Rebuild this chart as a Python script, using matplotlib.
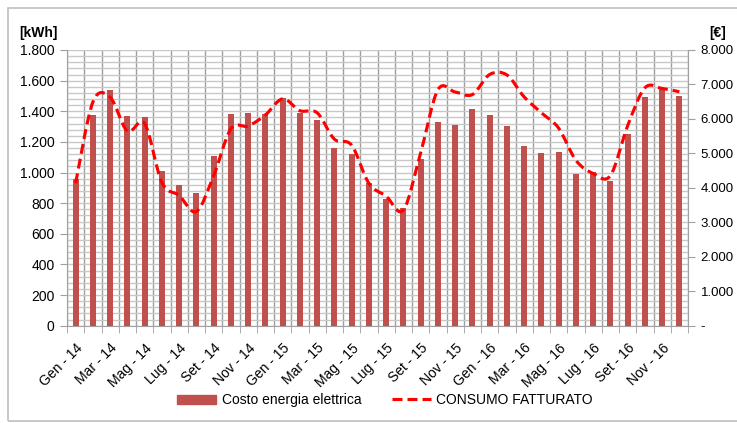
import matplotlib.pyplot as plt
import numpy as np
from matplotlib.path import Path
from matplotlib.patches import PathPatch, Rectangle
from matplotlib.lines import Line2D
from matplotlib.ticker import FuncFormatter, MultipleLocator

plt.rcParams['font.family'] = ['Liberation Sans', 'DejaVu Sans']

mesi = ["Gen", "Feb", "Mar", "Apr", "Mag", "Giu", "Lug", "Ago", "Set", "Ott", "Nov", "Dic"]
anni = ["14", "15", "16"]
labels = [f"{m} - {a}" for a in anni for m in mesi]

# Costo energia elettrica [€] (bars, right axis)
costo = [4270, 6115, 6850, 6095, 6055, 4490, 4090, 3840, 4930, 6150, 6175, 6155,
         6595, 6180, 5970, 5165, 4995, 4140, 3670, 3420, 4850, 5900, 5815, 6290,
         6125, 5795, 5215, 5000, 5050, 4410, 4470, 4200, 5560, 6635, 6865, 6665]

# CONSUMO FATTURATO [kWh] (line, left axis)
consumo = [930, 1460, 1491, 1270, 1320, 935, 850, 745, 978, 1285, 1304, 1376,
           1481, 1404, 1390, 1218, 1178, 930, 846, 755, 1128, 1540, 1526, 1509,
           1640, 1637, 1494, 1390, 1290, 1080, 994, 980, 1305, 1553, 1549, 1527]

bar_color = "#C0504D"
line_color = "#FF0000"
grid_color = "#C8C8C8"
vgrid_color = "#9E9E9E"
axis_color = "#A0A0A0"
dash = (0, (3.2, 1.6))


def it_fmt(v, pos):
    return f"{int(round(v)):,}".replace(",", ".")


def eur_fmt(v, pos):
    if abs(v) < 1e-6:
        return "-"
    return it_fmt(v, pos)


fig = plt.figure(figsize=(7.37, 4.23), dpi=100)
fig.patches.append(Rectangle((8 / 737, 2 / 423), 1.2, 413 / 423, transform=fig.transFigure,
                             fill=False, edgecolor="#BFBFBF", linewidth=1.2))

pos = [67 / 737, 1 - 325.7 / 423, (688 - 67) / 737, (325.7 - 50) / 423]
ax = fig.add_axes(pos)          # grid + left axis
axb = ax.twinx()                # bars, right axis
axl = ax.twinx()                # line, left scale

x = np.arange(len(labels))
ax.set_xlim(-0.5, len(labels) - 0.5)
ax.set_ylim(0, 1800)
axb.set_ylim(0, 8000)
axl.set_ylim(0, 1800)

# grid
ax.yaxis.set_major_locator(MultipleLocator(200))
ax.yaxis.set_minor_locator(MultipleLocator(40))
ax.yaxis.set_major_formatter(FuncFormatter(it_fmt))
ax.grid(which="both", axis="y", color=grid_color, linewidth=1)
ax.set_xticks(x[::2])
ax.set_xticks(np.arange(-0.5, len(labels)), minor=True)
ax.grid(which="minor", axis="x", color=vgrid_color, linewidth=1)
ax.set_xticklabels(labels[::2], rotation=45, ha="right", rotation_mode="anchor", fontsize=10)
ax.tick_params(axis="x", which="major", length=0, pad=11)
ax.tick_params(axis="x", which="minor", length=5, color=axis_color)
ax.tick_params(axis="y", which="major", length=5, color=axis_color, labelsize=10, pad=4)
ax.tick_params(axis="y", which="minor", length=0)

# bars
axb.bar(x, costo, width=0.36, color=bar_color, zorder=2)
axb.yaxis.set_major_locator(MultipleLocator(1000))
axb.yaxis.set_major_formatter(FuncFormatter(eur_fmt))
axb.tick_params(axis="y", length=5, color=axis_color, labelsize=9.5, pad=4)
for lbl in axb.get_yticklabels():
    lbl.set_horizontalalignment("left")

# smoothed line (Bezier through the data points)
y = np.array(consumo, dtype=float)
n = len(y)
verts = [(x[0], y[0])]
codes = [Path.MOVETO]
for i in range(n - 1):
    y0 = y[i - 1] if i > 0 else y[i]
    y3 = y[i + 2] if i + 2 < n else y[i + 1]
    x0 = x[i - 1] if i > 0 else x[i]
    x3 = x[i + 2] if i + 2 < n else x[i + 1]
    c1 = (x[i] + (x[i + 1] - x0) / 6, y[i] + (y[i + 1] - y0) / 6)
    c2 = (x[i + 1] - (x3 - x[i]) / 6, y[i + 1] - (y3 - y[i]) / 6)
    verts += [c1, c2, (x[i + 1], y[i + 1])]
    codes += [Path.CURVE4] * 3
axl.add_patch(PathPatch(Path(verts, codes), fill=False, edgecolor=line_color,
                        linewidth=2.25, linestyle=dash, zorder=3))
axl.set_yticks([])
axl.tick_params(axis="y", length=0)

for a in (ax, axb, axl):
    for s in a.spines.values():
        s.set_visible(False)
ax.spines["left"].set_visible(True)
ax.spines["left"].set_color(axis_color)
ax.spines["bottom"].set_visible(True)
ax.spines["bottom"].set_color(axis_color)
axb.spines["right"].set_visible(True)
axb.spines["right"].set_color(axis_color)

fig.text(38 / 737, 1 - 33 / 423, "[kWh]", fontsize=10, fontweight="bold", ha="center", va="center")
fig.text(718 / 737, 1 - 33 / 423, "[€]", fontsize=10, fontweight="bold", ha="center", va="center")

handles = [Rectangle((0, 0), 1, 1, color=bar_color),
           Line2D([0], [0], color=line_color, linewidth=2.25, linestyle=dash)]
fig.legend(handles, ["Costo energia elettrica", "CONSUMO FATTURATO"], loc="center",
           bbox_to_anchor=(385 / 737, 1 - 400 / 423), ncol=2, frameon=False, fontsize=10,
           handlelength=2.8, handleheight=0.6, handletextpad=0.4, columnspacing=2.2)

fig.savefig("out.png", dpi=100)
